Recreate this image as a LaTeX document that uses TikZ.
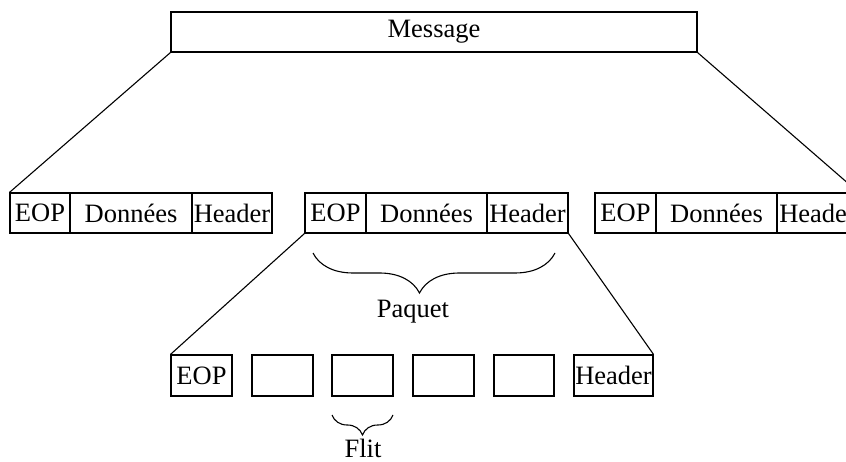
\documentclass[tikz,border=0pt]{standalone}
\usepackage{fontspec}
\setmainfont{Liberation Serif}
\usetikzlibrary{decorations.pathreplacing}
\begin{document}
\begin{tikzpicture}[x=1pt,y=-1pt,
  cell/.style={draw,line width=1.1pt,inner sep=0pt,minimum height=40pt,font=\fontsize{26.5}{30}\selectfont},
  link/.style={line width=1.1pt},
  brc/.style={line width=1.1pt,decorate,decoration={brace,mirror,amplitude=#1}},
  lbl/.style={font=\fontsize{26.5}{30}\selectfont}]
\useasboundingbox (0,0) rectangle (846,462);
% message
\node[cell,minimum width=526pt] (msg) at (434,32) {Message};
% left packet
\node[cell,minimum width=60pt]  (p1e) at (40,213)  {EOP};
\node[cell,minimum width=122pt] (p1d) at (131,213) {Données};
\node[cell,minimum width=80pt]  (p1h) at (232,213) {Header};
% middle packet
\node[cell,minimum width=61pt]  (p2e) at (335.5,213) {EOP};
\node[cell,minimum width=121pt] (p2d) at (426.5,213) {Données};
\node[cell,minimum width=81pt]  (p2h) at (527.5,213) {Header};
% right packet
\node[cell,minimum width=61pt]  (p3e) at (625.5,213) {EOP};
\node[cell,minimum width=121pt] (p3d) at (716.5,213) {Données};
\node[cell,minimum width=81pt]  (p3h) at (817.5,213) {Header};
% flits
\node[cell,minimum width=61pt,minimum height=41pt] (f1) at (201.5,375.5) {EOP};
\node[cell,minimum width=61pt,minimum height=41pt] (f2) at (282.5,375.5) {};
\node[cell,minimum width=61pt,minimum height=41pt] (f3) at (362.5,375.5) {};
\node[cell,minimum width=61pt,minimum height=41pt] (f4) at (443.5,375.5) {};
\node[cell,minimum width=60pt,minimum height=41pt] (f5) at (524,375.5) {};
\node[cell,minimum width=79pt,minimum height=41pt] (f6) at (613.5,375.5) {Header};
% connectors
\draw[link] (msg.south west) -- (p1e.north west);
\draw[link] (msg.south east) -- (p3h.north east);
\draw[link] (p2e.south west) -- (f1.north west);
\draw[link] (p2h.south east) -- (f6.north east);
% braces
\coordinate (pa) at (313,253);
\coordinate (pb) at (555,253);
\draw[brc=40pt,decoration={aspect=0.44}] (pa) -- (pb);
\node[lbl] (paquet) at (413,312) {Paquet};
\coordinate (fa) at (332,415);
\coordinate (fb) at (393,415);
\draw[brc=20pt] (fa) -- (fb);
\node[lbl] (flit) at (363,448) {Flit};
\end{tikzpicture}
\end{document}
